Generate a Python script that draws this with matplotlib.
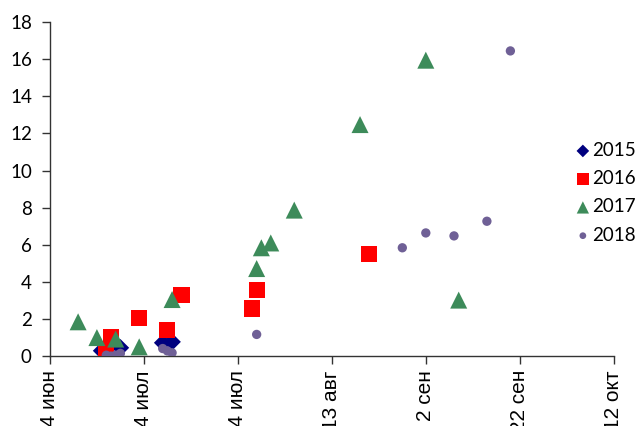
import datetime as dt

import matplotlib
matplotlib.use("Agg")
import matplotlib.dates as mdates
import matplotlib.pyplot as plt

BASE_YEAR = 2018

# day-month of each observation (all seasons on one calendar), values
dates_2015 = ["06-25", "06-29", "07-08", "07-10"]
vals_2015 = [0.29, 0.45, 0.72, 0.77]

dates_2016 = ["06-26", "06-27", "07-03", "07-09", "07-12", "07-27", "07-28", "08-21"]
vals_2016 = [0.36, 1.04, 2.05, 1.4, 3.29, 2.57, 3.56, 5.5]

dates_2017 = ["06-20", "06-24", "06-28", "07-03", "07-10", "07-28", "07-29",
              "07-31", "08-05", "08-19", "09-02", "09-09"]
vals_2017 = [1.85, 1.0, 0.92, 0.5, 3.05, 4.72, 5.84, 6.1, 7.87, 12.48, 15.95, 3.02]

dates_2018 = ["06-26", "06-27", "06-28", "06-29", "07-08", "07-09", "07-10",
              "07-28", "08-28", "09-02", "09-08", "09-15", "09-20"]
vals_2018 = [0.05, 0.0, 0.05, 0.15, 0.41, 0.28, 0.18, 1.17, 5.84, 6.64, 6.48, 7.27, 16.45]

tick_dates = ["06-14", "07-04", "07-24", "08-13", "09-02", "09-22", "10-12"]
tick_labels = ["14 июн", "4 июл", "24 июл", "13 авг", "2 сен", "22 сен", "12 окт"]
y_ticks = [0, 2, 4, 6, 8, 10, 12, 14, 16, 18]


def to_date(md):
    m, d = md.split("-")
    return dt.datetime(BASE_YEAR, int(m), int(d))


def to_num(items):
    return [mdates.date2num(to_date(s)) for s in items]


fig = plt.figure(figsize=(6.4, 4.26), dpi=100)
ax = fig.add_axes([0.078, 0.164, 0.881, 0.784])

series = [
    ("2015", dates_2015, vals_2015, "D", "#00007f", 80),
    ("2016", dates_2016, vals_2016, "s", "#ff0000", 135),
    ("2017", dates_2017, vals_2017, "^", "#3d8b5a", 150),
    ("2018", dates_2018, vals_2018, "o", "#6f6096", 45),
]
for name, ds, vs, marker, color, size in series:
    ax.scatter(to_num(ds), vs, marker=marker, s=size, color=color,
               edgecolors="none", label=name, zorder=3)

ax.set_xlim(mdates.date2num(to_date("06-14")), mdates.date2num(to_date("10-12")))
ax.set_ylim(0, 18)
ax.set_xticks(to_num(tick_dates))
# labels run off the bottom edge, as in the original export
ax.set_xticklabels(tick_labels, rotation=90, fontsize=15, family="Liberation Sans")
ax.set_yticks(y_ticks)
ax.set_yticklabels([str(v) for v in y_ticks], fontsize=13.5, family="Lato")
ax.tick_params(axis="both", length=6, width=1, color="#333333", direction="out")
ax.tick_params(axis="y", pad=7)
ax.tick_params(axis="x", pad=4)
for side in ("top", "right"):
    ax.spines[side].set_visible(False)
for side in ("left", "bottom"):
    ax.spines[side].set_color("#333333")
    ax.spines[side].set_linewidth(1)

fig.legend(loc="upper left", bbox_to_anchor=(0.899, 0.667), frameon=False,
           prop={"family": "Lato", "size": 13.5}, handletextpad=0.1,
           labelspacing=0.6, borderaxespad=0, borderpad=0, handlelength=0.8,
           markerscale=0.72, scatterpoints=1)

fig.savefig("out.png", dpi=100)
